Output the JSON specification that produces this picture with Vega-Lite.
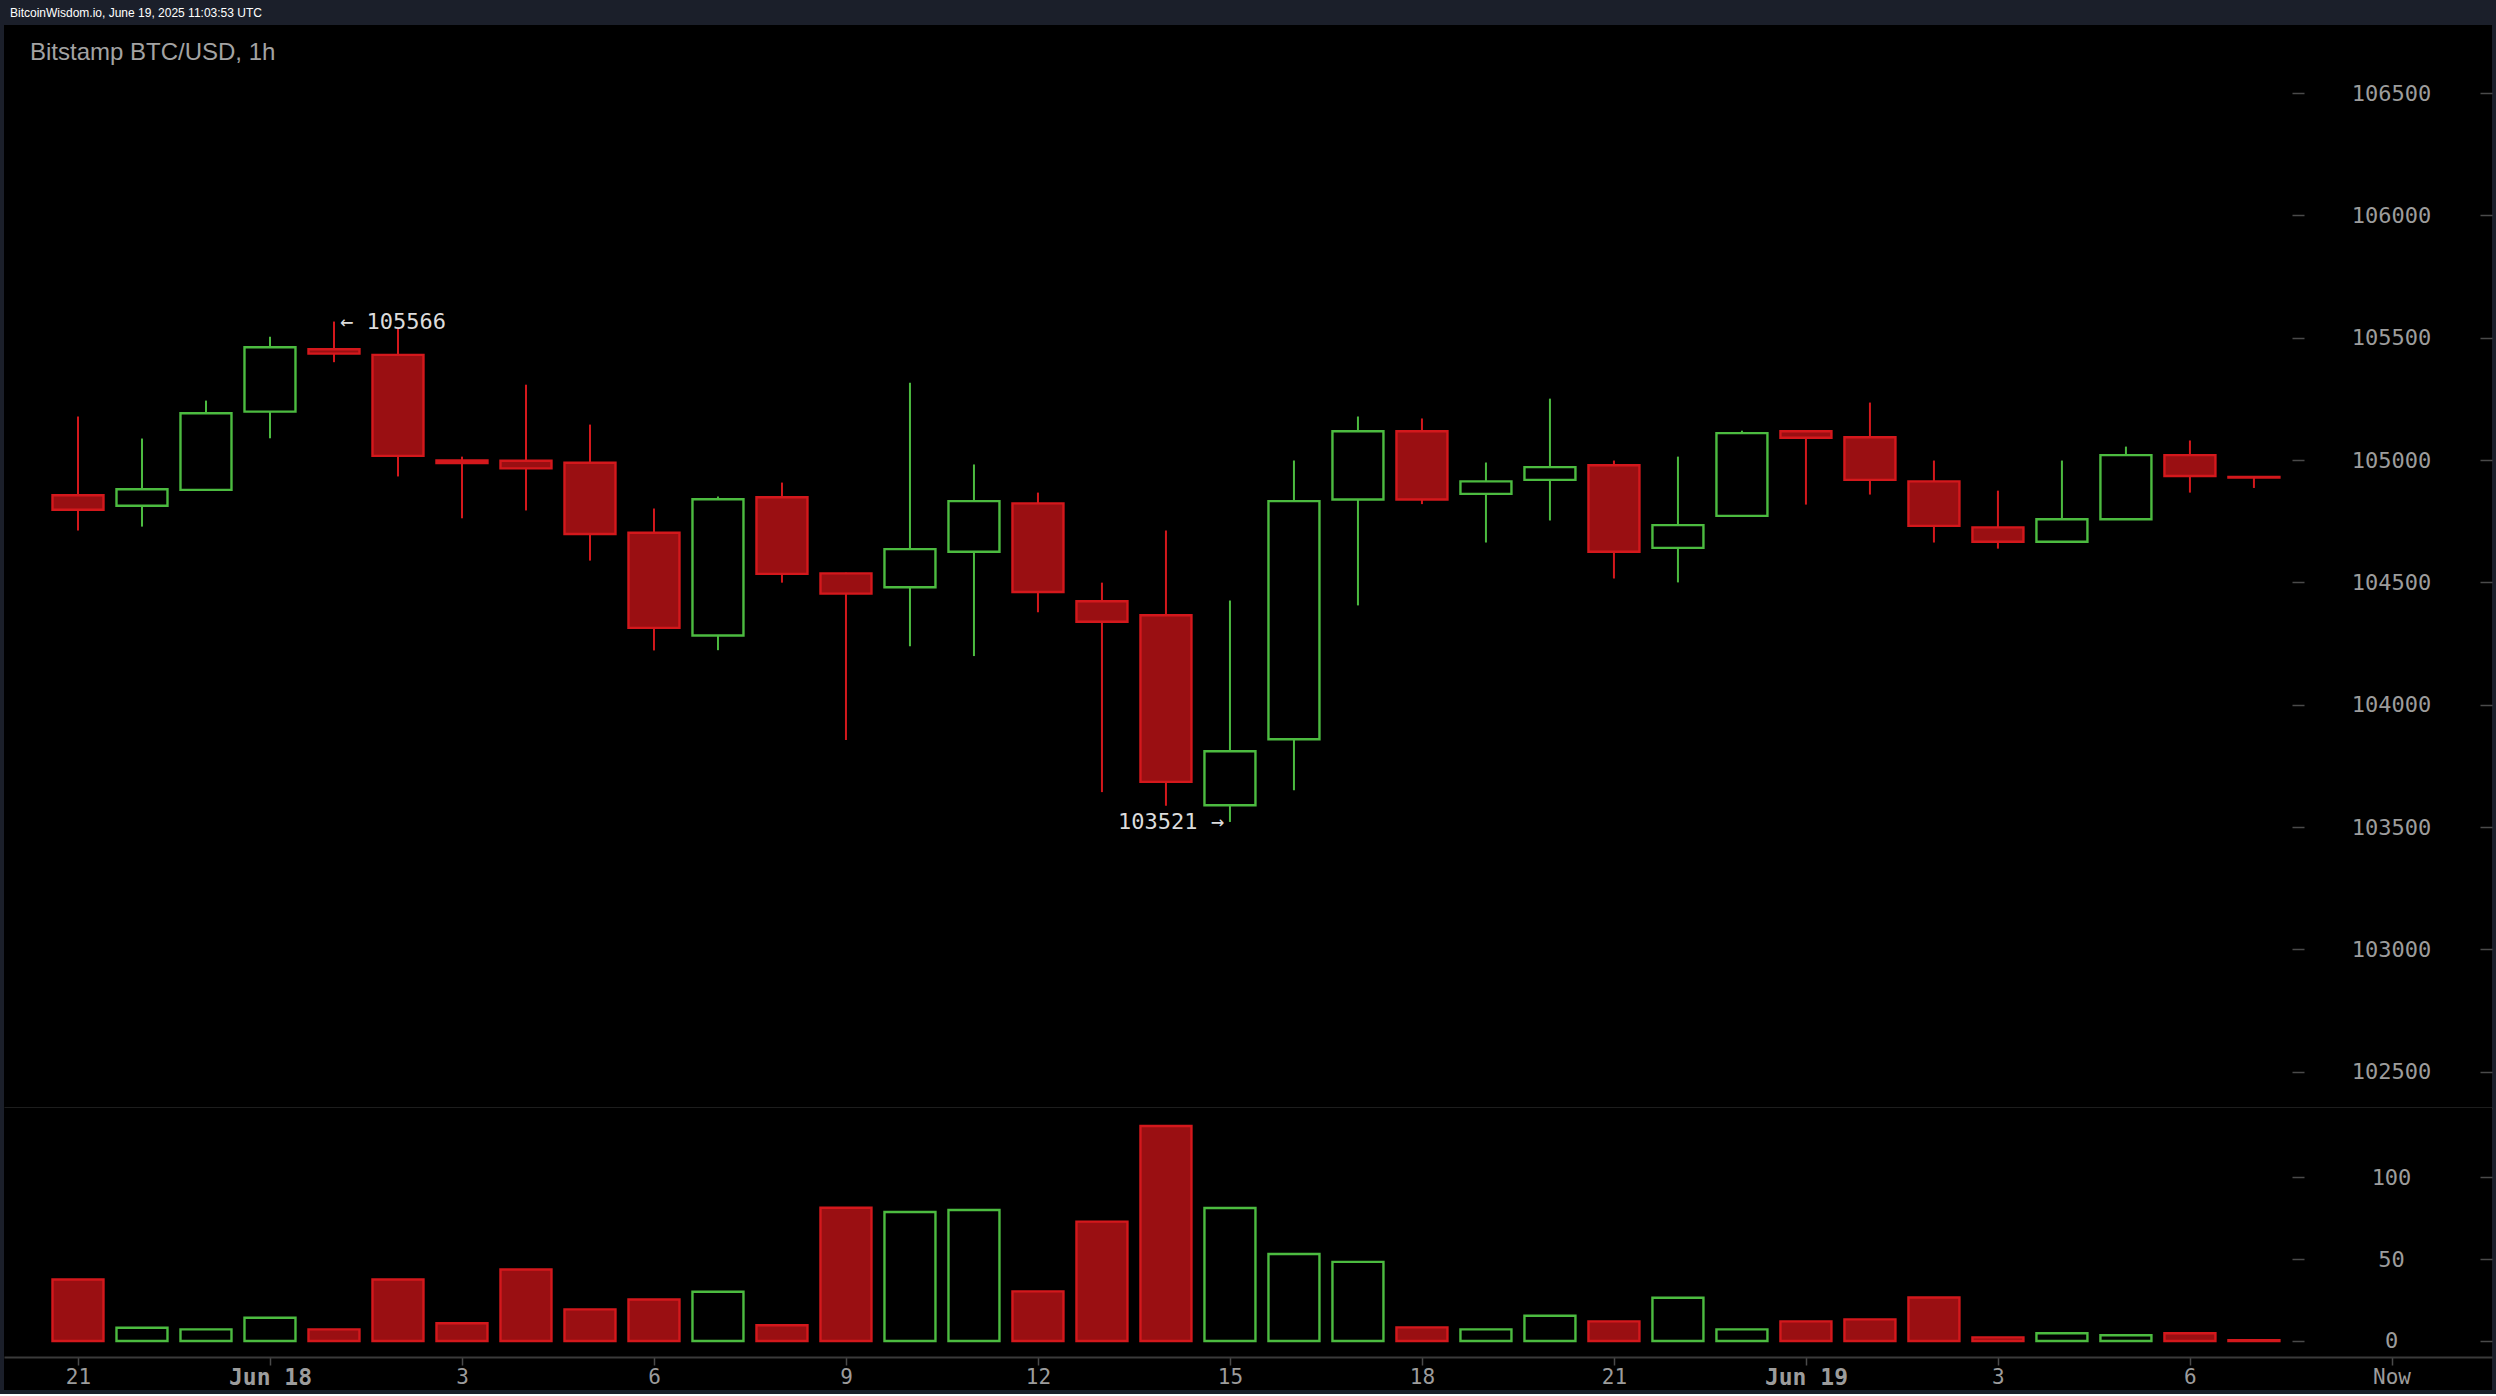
{
  "$schema": "https://vega.github.io/schema/vega-lite/v6.json",
  "background": "#1b1f2a",
  "padding": {"left": 4, "right": 4, "top": 7, "bottom": 4},
  "title": {"text": "BitcoinWisdom.io, June 19, 2025 11:03:53 UTC", "anchor": "start", "frame": "group", "font": "Liberation Sans", "fontSize": 12, "fontWeight": "normal", "color": "#ffffff", "dx": 6, "offset": 5},
  "data": {"values": [
    {"time": "2025-06-17T21:00:00", "open": 104856, "high": 105178, "low": 104712, "close": 104797, "volume": 37.6},
    {"time": "2025-06-17T22:00:00", "open": 104813, "high": 105088, "low": 104728, "close": 104881, "volume": 8.1},
    {"time": "2025-06-17T23:00:00", "open": 104878, "high": 105243, "low": 104876, "close": 105191, "volume": 7.1},
    {"time": "2025-06-18T00:00:00", "open": 105198, "high": 105504, "low": 105089, "close": 105461, "volume": 14.2},
    {"time": "2025-06-18T01:00:00", "open": 105453, "high": 105566, "low": 105400, "close": 105435, "volume": 7.1},
    {"time": "2025-06-18T02:00:00", "open": 105430, "high": 105536, "low": 104933, "close": 105017, "volume": 37.6},
    {"time": "2025-06-18T03:00:00", "open": 104998, "high": 105014, "low": 104762, "close": 104988, "volume": 10.8},
    {"time": "2025-06-18T04:00:00", "open": 104997, "high": 105308, "low": 104794, "close": 104966, "volume": 43.7},
    {"time": "2025-06-18T05:00:00", "open": 104989, "high": 105145, "low": 104589, "close": 104698, "volume": 19.3},
    {"time": "2025-06-18T06:00:00", "open": 104703, "high": 104802, "low": 104222, "close": 104314, "volume": 25.4},
    {"time": "2025-06-18T07:00:00", "open": 104283, "high": 104851, "low": 104223, "close": 104840, "volume": 30.1},
    {"time": "2025-06-18T08:00:00", "open": 104848, "high": 104908, "low": 104499, "close": 104535, "volume": 9.6},
    {"time": "2025-06-18T09:00:00", "open": 104537, "high": 104540, "low": 103856, "close": 104454, "volume": 81.5},
    {"time": "2025-06-18T10:00:00", "open": 104480, "high": 105316, "low": 104239, "close": 104636, "volume": 78.9},
    {"time": "2025-06-18T11:00:00", "open": 104625, "high": 104982, "low": 104199, "close": 104832, "volume": 80.1},
    {"time": "2025-06-18T12:00:00", "open": 104823, "high": 104867, "low": 104378, "close": 104461, "volume": 30.3},
    {"time": "2025-06-18T13:00:00", "open": 104423, "high": 104499, "low": 103643, "close": 104339, "volume": 73.0},
    {"time": "2025-06-18T14:00:00", "open": 104366, "high": 104712, "low": 103587, "close": 103685, "volume": 131.5},
    {"time": "2025-06-18T15:00:00", "open": 103589, "high": 104426, "low": 103521, "close": 103810, "volume": 81.3},
    {"time": "2025-06-18T16:00:00", "open": 103859, "high": 104998, "low": 103651, "close": 104832, "volume": 53.2},
    {"time": "2025-06-18T17:00:00", "open": 104839, "high": 105178, "low": 104406, "close": 105118, "volume": 48.4},
    {"time": "2025-06-18T18:00:00", "open": 105118, "high": 105170, "low": 104820, "close": 104839, "volume": 8.3},
    {"time": "2025-06-18T19:00:00", "open": 104862, "high": 104990, "low": 104663, "close": 104913, "volume": 7.1},
    {"time": "2025-06-18T20:00:00", "open": 104919, "high": 105251, "low": 104753, "close": 104971, "volume": 15.4},
    {"time": "2025-06-18T21:00:00", "open": 104979, "high": 104998, "low": 104516, "close": 104625, "volume": 12.0},
    {"time": "2025-06-18T22:00:00", "open": 104641, "high": 105014, "low": 104500, "close": 104734, "volume": 26.4},
    {"time": "2025-06-18T23:00:00", "open": 104772, "high": 105120, "low": 104770, "close": 105110, "volume": 7.1},
    {"time": "2025-06-19T00:00:00", "open": 105118, "high": 105122, "low": 104818, "close": 105091, "volume": 12.0},
    {"time": "2025-06-19T01:00:00", "open": 105093, "high": 105235, "low": 104859, "close": 104919, "volume": 13.2},
    {"time": "2025-06-19T02:00:00", "open": 104913, "high": 104998, "low": 104663, "close": 104731, "volume": 26.6},
    {"time": "2025-06-19T03:00:00", "open": 104725, "high": 104875, "low": 104638, "close": 104666, "volume": 2.2},
    {"time": "2025-06-19T04:00:00", "open": 104666, "high": 104998, "low": 104664, "close": 104758, "volume": 4.7},
    {"time": "2025-06-19T05:00:00", "open": 104758, "high": 105055, "low": 104756, "close": 105020, "volume": 3.5},
    {"time": "2025-06-19T06:00:00", "open": 105020, "high": 105080, "low": 104867, "close": 104935, "volume": 4.7},
    {"time": "2025-06-19T07:00:00", "open": 104931, "high": 104932, "low": 104886, "close": 104929, "volume": 0.4}
  ]},
  "vconcat": [
    {
      "width": 2488,
      "height": 1083,
      "title": {"text": "Bitstamp BTC/USD, 1h", "anchor": "start", "frame": "group", "font": "Liberation Sans", "fontSize": 24, "fontWeight": "normal", "color": "#a3a3a3", "dx": 26, "offset": -40},
      "transform": [{"calculate": "datum.close >= datum.open ? 'up' : 'down'", "as": "dir"}],
      "layer": [
        {
          "mark": {"type": "rule", "strokeWidth": 2},
          "encoding": {
            "x": {"field": "time", "type": "temporal",
              "scale": {"padding": 0, "domain": [{"year": 2025, "month": 6, "date": 17, "hours": 19, "minutes": 50, "seconds": 38}, {"year": 2025, "month": 6, "date": 19, "hours": 10, "minutes": 43, "seconds": 12}]},
              "axis": {"orient": "bottom", "domain": true, "domainColor": "#3a3a3a", "domainWidth": 2, "ticks": false, "labels": false, "grid": false, "title": null}},
            "y": {"field": "low", "type": "quantitative",
              "scale": {"domain": [102352, 106778], "zero": false, "nice": false},
              "axis": {"orient": "right", "offset": -200, "domain": false, "grid": false, "title": null,
                "values": [102500, 103000, 103500, 104000, 104500, 105000, 105500, 106000, 106500],
                "format": "d", "tickSize": 200, "tickDash": [12, 176], "tickColor": "#4a4a4a", "tickWidth": 1.5,
                "labelPadding": -101, "labelAlign": "center", "labelBaseline": "middle",
                "labelFont": "DejaVu Sans Mono", "labelFontSize": 22, "labelColor": "#9c9c9c", "labelOverlap": false, "labelFlush": false}},
            "y2": {"field": "high"},
            "stroke": {"field": "dir", "type": "nominal", "scale": {"domain": ["up", "down"], "range": ["#4cbb40", "#d4181c"]}, "legend": null}
          }
        },
        {
          "mark": {"type": "bar", "width": 51, "strokeWidth": 2.4},
          "encoding": {
            "x": {"field": "time", "type": "temporal"},
            "y": {"field": "open", "type": "quantitative"},
            "y2": {"field": "close"},
            "fill": {"field": "dir", "type": "nominal", "scale": {"domain": ["up", "down"], "range": ["#000000", "#9a0f12"]}, "legend": null},
            "stroke": {"field": "dir", "type": "nominal", "legend": null}
          }
        },
        {
          "transform": [
            {"joinaggregate": [{"op": "max", "field": "high", "as": "maxHigh"}]},
            {"filter": "datum.high == datum.maxHigh"},
            {"calculate": "'← ' + datum.high", "as": "label"}
          ],
          "mark": {"type": "text", "align": "left", "baseline": "middle", "dx": 6, "font": "DejaVu Sans Mono", "fontSize": 22, "color": "#dcdcdc"},
          "encoding": {
            "x": {"field": "time", "type": "temporal"},
            "y": {"field": "high", "type": "quantitative"},
            "text": {"field": "label"}
          }
        },
        {
          "transform": [
            {"joinaggregate": [{"op": "min", "field": "low", "as": "minLow"}]},
            {"filter": "datum.low == datum.minLow"},
            {"calculate": "datum.low + ' →'", "as": "label"}
          ],
          "mark": {"type": "text", "align": "right", "baseline": "middle", "dx": -6, "font": "DejaVu Sans Mono", "fontSize": 22, "color": "#dcdcdc"},
          "encoding": {
            "x": {"field": "time", "type": "temporal"},
            "y": {"field": "low", "type": "quantitative"},
            "text": {"field": "label"}
          }
        }
      ]
    },
    {
      "width": 2488,
      "height": 282,
      "transform": [{"calculate": "datum.close >= datum.open ? 'up' : 'down'", "as": "dir"}],
      "mark": {"type": "bar", "width": 51, "strokeWidth": 2.4},
      "encoding": {
        "x": {"field": "time", "type": "temporal",
          "scale": {"padding": 0, "domain": [{"year": 2025, "month": 6, "date": 17, "hours": 19, "minutes": 50, "seconds": 38}, {"year": 2025, "month": 6, "date": 19, "hours": 10, "minutes": 43, "seconds": 12}]},
          "axis": {"orient": "bottom", "offset": -33, "title": null, "grid": false,
            "domain": true, "domainColor": "#3a3a3a", "domainWidth": 2,
            "ticks": true, "tickSize": 8, "tickColor": "#4a4a4a", "tickWidth": 1.5,
            "values": [
              {"year": 2025, "month": 6, "date": 17, "hours": 21},
              {"year": 2025, "month": 6, "date": 18, "hours": 0},
              {"year": 2025, "month": 6, "date": 18, "hours": 3},
              {"year": 2025, "month": 6, "date": 18, "hours": 6},
              {"year": 2025, "month": 6, "date": 18, "hours": 9},
              {"year": 2025, "month": 6, "date": 18, "hours": 12},
              {"year": 2025, "month": 6, "date": 18, "hours": 15},
              {"year": 2025, "month": 6, "date": 18, "hours": 18},
              {"year": 2025, "month": 6, "date": 18, "hours": 21},
              {"year": 2025, "month": 6, "date": 19, "hours": 0},
              {"year": 2025, "month": 6, "date": 19, "hours": 3},
              {"year": 2025, "month": 6, "date": 19, "hours": 6},
              {"year": 2025, "month": 6, "date": 19, "hours": 9, "minutes": 9}
            ],
            "labelExpr": "minutes(datum.value) != 0 ? 'Now' : (hours(datum.value) == 0 ? timeFormat(datum.value, '%b %d') : '' + hours(datum.value))",
            "labelFont": "DejaVu Sans Mono",
            "labelFontSize": {"condition": {"test": "hours(datum.value) == 0 && minutes(datum.value) == 0", "value": 23}, "value": 21},
            "labelFontWeight": {"condition": {"test": "hours(datum.value) == 0 && minutes(datum.value) == 0", "value": "bold"}, "value": "normal"},
            "labelColor": "#9c9c9c",
            "labelBaseline": "top", "labelPadding": 1, "labelAlign": "center",
            "labelOverlap": false, "labelFlush": false}},
        "y": {"field": "volume", "type": "quantitative",
          "scale": {"domain": [-30, 142.5], "zero": false, "nice": false},
          "axis": {"orient": "right", "offset": -200, "domain": false, "grid": false, "title": null,
            "values": [0, 50, 100], "format": "d",
            "tickSize": 200, "tickDash": [12, 176], "tickColor": "#4a4a4a", "tickWidth": 1.5,
            "labelPadding": -101, "labelAlign": "center", "labelBaseline": "middle",
            "labelFont": "DejaVu Sans Mono", "labelFontSize": 22, "labelColor": "#9c9c9c", "labelOverlap": false, "labelFlush": false}},
        "y2": {"datum": 0},
        "fill": {"field": "dir", "type": "nominal", "scale": {"domain": ["up", "down"], "range": ["#000000", "#9a0f12"]}, "legend": null},
        "stroke": {"field": "dir", "type": "nominal", "scale": {"domain": ["up", "down"], "range": ["#4cbb40", "#d4181c"]}, "legend": null}
      }
    }
  ],
  "spacing": 0,
  "resolve": {"scale": {"y": "independent", "x": "independent"}},
  "config": {
    "view": {"fill": "#000000", "stroke": null},
    "axis": {"grid": false}
  }
}
